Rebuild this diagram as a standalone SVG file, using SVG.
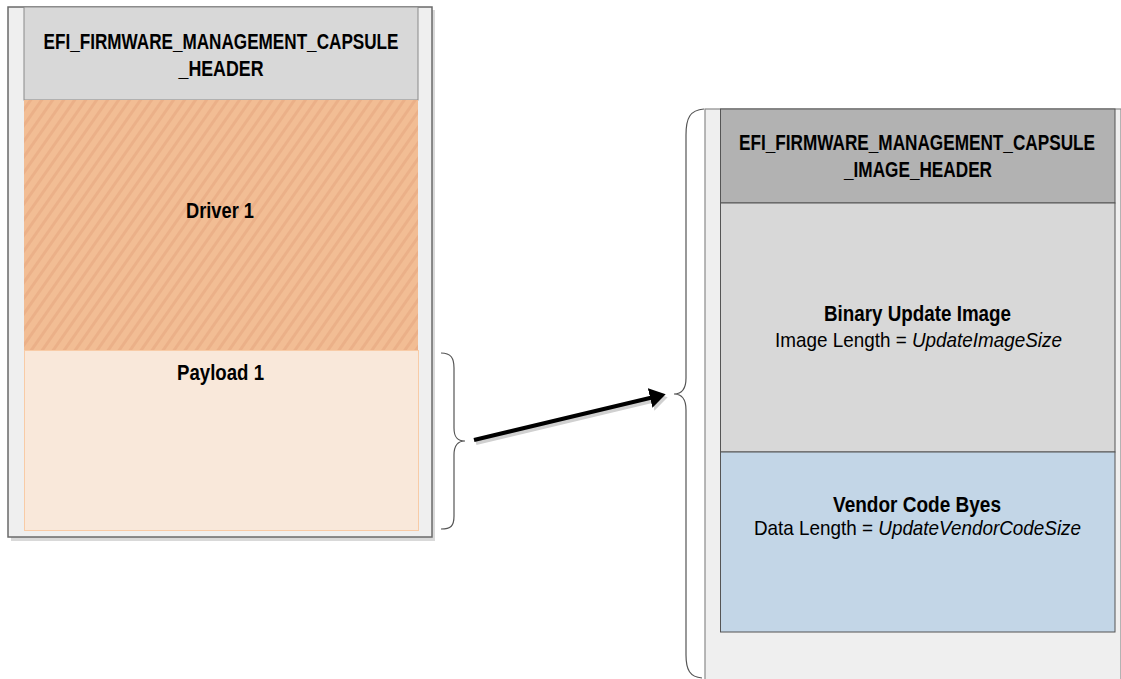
<svg xmlns="http://www.w3.org/2000/svg" width="1121" height="679" viewBox="0 0 1121 679">
<style>
.b{font-family:"Liberation Sans Narrow","Arial Narrow","Liberation Sans",Arial,sans-serif;font-weight:bold;font-size:22px;fill:#000;text-anchor:middle}
.r{font-family:"Liberation Sans Narrow","Arial Narrow","Liberation Sans",Arial,sans-serif;font-size:21px;fill:#000;text-anchor:middle}
.i{font-style:italic}
.brace{fill:none;stroke:#555;stroke-width:1.2}
</style>
<defs>
<pattern id="hatch" width="9" height="9" patternUnits="userSpaceOnUse" patternTransform="rotate(35)">
<rect width="9" height="9" fill="#f2bd94"/>
<rect width="3" height="9" fill="#ebb088"/>
</pattern>
<marker id="ah" markerWidth="5" markerHeight="5" refX="1" refY="2.5" orient="auto" markerUnits="strokeWidth">
<path d="M0,0 L4,2.5 L0,5 Z" fill="#000"/>
</marker>
<marker id="ahs" markerWidth="5" markerHeight="5" refX="1" refY="2.5" orient="auto" markerUnits="strokeWidth">
<path d="M0,0 L4,2.5 L0,5 Z" fill="#d0d0d0"/>
</marker>
</defs>
<rect width="1121" height="679" fill="#fff"/>

<g id="left-container">
<rect x="11" y="10" width="424" height="531" fill="#d9d9d9"/>
<rect x="8" y="7" width="424" height="530" fill="#efefef" stroke="#6a6a6a" stroke-width="1.5"/>
</g>
<g id="left-header">
<rect x="24" y="7" width="394" height="93" fill="#d8d8d8" stroke="#8a8a8a" stroke-width="1"/>
<text class="b" x="221" y="49" textLength="355" lengthAdjust="spacingAndGlyphs">EFI_FIRMWARE_MANAGEMENT_CAPSULE</text>
<text class="b" x="221" y="76" textLength="85" lengthAdjust="spacingAndGlyphs">_HEADER</text>
</g>
<g id="driver1">
<rect x="24" y="100" width="394" height="250" fill="url(#hatch)"/>
<text class="b" x="220" y="218" textLength="68" lengthAdjust="spacingAndGlyphs">Driver 1</text>
</g>
<g id="payload1">
<rect x="24.5" y="350.5" width="394" height="180" fill="#f9e8da" stroke="#f8cba6" stroke-width="1"/>
<text class="b" x="220.5" y="380" textLength="87" lengthAdjust="spacingAndGlyphs">Payload 1</text>
</g>

<g id="right-container">
<rect x="705" y="109" width="416" height="575" fill="#efefef" stroke="#8a8a8a" stroke-width="1.2"/>
</g>
<g id="right-header">
<rect x="720.5" y="109" width="394.5" height="94" fill="#b2b2b2" stroke="#555" stroke-width="1"/>
<text class="b" x="917" y="150" textLength="356" lengthAdjust="spacingAndGlyphs">EFI_FIRMWARE_MANAGEMENT_CAPSULE</text>
<text class="b" x="918" y="177" textLength="148" lengthAdjust="spacingAndGlyphs">_IMAGE_HEADER</text>
</g>
<g id="binary-update-image">
<rect x="720.5" y="203" width="394.5" height="249" fill="#d8d8d8" stroke="#555" stroke-width="1"/>
<text class="b" x="917.5" y="321" textLength="187" lengthAdjust="spacingAndGlyphs">Binary Update Image</text>
<text class="r" x="918.5" y="347" textLength="287" lengthAdjust="spacingAndGlyphs">Image Length = <tspan class="i">UpdateImageSize</tspan></text>
</g>
<g id="vendor-code-bytes">
<rect x="720.5" y="452" width="394.5" height="180" fill="#c3d6e7" stroke="#555" stroke-width="1"/>
<text class="b" x="917" y="512" textLength="168" lengthAdjust="spacingAndGlyphs">Vendor Code Byes</text>
<text class="r" x="917.5" y="535" textLength="327" lengthAdjust="spacingAndGlyphs">Data Length = <tspan class="i">UpdateVendorCodeSize</tspan></text>
</g>

<g id="connectors">
<path class="brace" d="M441,353 C451,353 454,358 454,368 L454,428 C454,437 457,441 465,441 C457,441 454,446 454,455 L454,516 C454,526 451,529 441,529"/>
<path class="brace" d="M704,109 C690,110 686,118 686,135 L686,378 C686,389 682,394 674,394 C682,394 686,399 686,410 L686,655 C686,670 690,677 702,678"/>
<line x1="476" y1="443" x2="656" y2="400" stroke="#d0d0d0" stroke-width="4" marker-end="url(#ahs)"/>
<line x1="474" y1="440" x2="654" y2="397" stroke="#000" stroke-width="4" marker-end="url(#ah)"/>
</g>
</svg>
